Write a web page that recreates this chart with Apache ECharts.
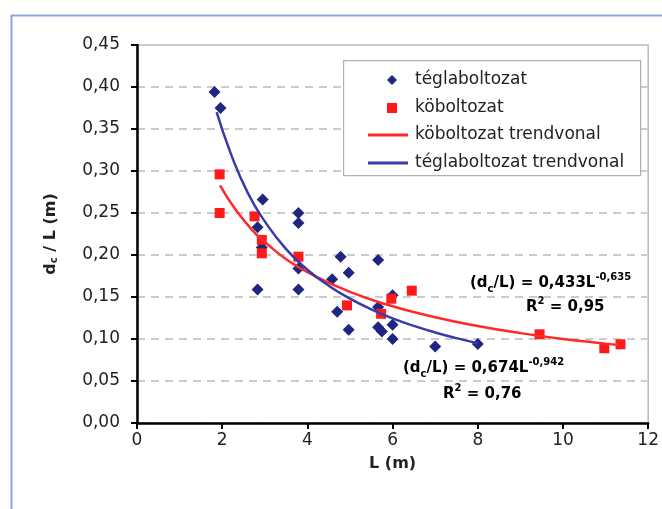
<!DOCTYPE html>
<html>
<head>
<meta charset="utf-8">
<script src="https://cdn.jsdelivr.net/npm/echarts@6/dist/echarts.min.js"></script>
<style>
html,body{margin:0;padding:0;background:#fff;}
#chart{width:662px;height:509px;}
</style>
</head>
<body>
<div id="chart"></div>
<script>
// ---- data ----
const teglaX = [1.82, 1.96, 2.95, 2.83, 2.93, 2.83, 3.79, 3.79, 3.79, 3.79, 4.78, 5.66, 4.97, 4.58, 6.00, 5.66, 4.70, 6.00, 5.66, 5.75, 4.97, 6.00, 7.00, 8.00];
const teglaY = [0.394, 0.375, 0.266, 0.233, 0.209, 0.159, 0.250, 0.238, 0.184, 0.159, 0.198, 0.194, 0.179, 0.171, 0.152, 0.138, 0.1325, 0.117, 0.114, 0.109, 0.111, 0.100, 0.091, 0.094];

const koX = [1.94, 1.94, 2.76, 2.93, 2.93, 3.79, 4.93, 5.97, 5.73, 6.45, 9.45, 10.97, 11.35];
const koY = [0.296, 0.250, 0.246, 0.218, 0.202, 0.198, 0.140, 0.148, 0.130, 0.1575, 0.1056, 0.089, 0.0937];

const koTrendX = [1.95, 2.3, 2.7, 3, 3.5, 4, 5, 6, 7, 8, 9, 10, 11, 11.35];
const koTrendY = [0.283, 0.255, 0.230, 0.2155, 0.195, 0.1795, 0.156, 0.139, 0.126, 0.1155, 0.107, 0.100, 0.0945, 0.0926];

const teglaTrendX = [1.87, 2.2, 2.6, 3, 3.5, 4, 4.5, 5, 5.5, 6, 6.5, 7, 7.5, 8];
const teglaTrendY = [0.370, 0.321, 0.274, 0.240, 0.207, 0.1825, 0.1635, 0.148, 0.1353, 0.1246, 0.1156, 0.1078, 0.101, 0.095];

const yTicks = ['0,00','0,05','0,10','0,15','0,20','0,25','0,30','0,35','0,40','0,45'];
const xTicks = ['0','2','4','6','8','10','12'];

const seriesNames = ['téglaboltozat', 'köboltozat', 'köboltozat trendvonal', 'téglaboltozat trendvonal'];

const FONT = 'DejaVu Sans';
const zip = (a, b) => a.map((v, i) => [v, b[i]]);

const chart = echarts.init(document.getElementById('chart'), null, {renderer: 'canvas'});

const eqRich = (color) => ({
  m: {fontSize: 15, fontWeight: 'bold', fontFamily: FONT, color: color, lineHeight: 22, verticalAlign: 'middle'},
  sub: {fontSize: 10, fontWeight: 'bold', fontFamily: FONT, color: color, lineHeight: 10, verticalAlign: 'bottom'},
  sup: {fontSize: 10, fontWeight: 'bold', fontFamily: FONT, color: color, lineHeight: 10, verticalAlign: 'top'}
});

const option = {
  animation: false,
  backgroundColor: '#ffffff',
  grid: {left: 137, right: 11, top: 45, bottom: 86, show: true, borderColor: '#b8b8b8', borderWidth: 1.5, backgroundColor: 'transparent'},
  xAxis: {
    type: 'value', min: 0, max: 12, interval: 2,
    name: 'L (m)', nameLocation: 'middle', nameGap: 33,
    nameTextStyle: {fontFamily: FONT, fontSize: 16, fontWeight: 'bold', color: '#222'},
    axisLine: {show: true, onZero: false, lineStyle: {color: '#000', width: 2.5}},
    axisTick: {show: true, length: 6, lineStyle: {color: '#000', width: 2}},
    axisLabel: {margin: 9, fontFamily: FONT, fontSize: 17, color: '#222',
      formatter: (v) => xTicks[Math.round(v / 2)]},
    splitLine: {show: false}
  },
  yAxis: {
    type: 'value', min: 0, max: 0.45, interval: 0.05,
    name: 'd{sub|c} / L (m)', nameLocation: 'middle', nameGap: 78, nameRotate: 90,
    nameTextStyle: {fontFamily: FONT, fontSize: 16, fontWeight: 'bold', color: '#222',
      rich: {sub: {fontFamily: FONT, fontSize: 10, fontWeight: 'bold', color: '#222', verticalAlign: 'bottom', lineHeight: 10}}},
    axisLine: {show: true, onZero: false, lineStyle: {color: '#000', width: 2.5}},
    axisTick: {show: true, length: 6, lineStyle: {color: '#000', width: 2}},
    axisLabel: {margin: 17, fontFamily: FONT, fontSize: 17, color: '#222',
      formatter: (v) => yTicks[Math.round(v / 0.05)]},
    splitLine: {show: true, lineStyle: {color: '#cccccc', width: 2, type: [8, 6]}}
  },
  legend: [
    {
      orient: 'vertical', left: 382, top: 65, itemWidth: 10, itemHeight: 10, itemGap: 8,
      data: [{name: seriesNames[0], icon: 'diamond'}, {name: seriesNames[1], icon: 'rect'}],
      textStyle: {fontFamily: FONT, fontSize: 17, color: '#222', lineHeight: 20, padding: [0, 0, 0, 13]}
    },
    {
      orient: 'vertical', left: 363, top: 120, itemWidth: 40, itemHeight: 3, itemGap: 8,
      data: [{name: seriesNames[2], icon: 'rect'}, {name: seriesNames[3], icon: 'rect'}],
      textStyle: {fontFamily: FONT, fontSize: 17, color: '#222', lineHeight: 20, padding: [0, 0, 0, 2]}
    }
  ],
  graphic: [
    {type: 'rect', left: 9, top: 13, shape: {width: 700, height: 600},
      style: {fill: 'none', stroke: '#85a9dd', lineWidth: 2}, silent: true, z: -1},
    {type: 'rect', left: 343, top: 60, shape: {width: 297, height: 115},
      style: {fill: '#fff', stroke: '#b0b0b0', lineWidth: 1.2}, silent: true, z: 1},
    {type: 'text', left: 470, top: 272, z: 5,
      style: {text: '{m|(d}{sub|c}{m|/L) = 0,433L}{sup|-0,635}', rich: eqRich('#ff2a2a')}},
    {type: 'text', left: 526, top: 296, z: 5,
      style: {text: '{m|R}{sup|2}{m| = 0,95}', rich: eqRich('#ff2a2a')}},
    {type: 'text', left: 403, top: 357, z: 5,
      style: {text: '{m|(d}{sub|c}{m|/L) = 0,674L}{sup|-0,942}', rich: eqRich('#2e3a8c')}},
    {type: 'text', left: 443, top: 383, z: 5,
      style: {text: '{m|R}{sup|2}{m| = 0,76}', rich: eqRich('#2e3a8c')}}
  ],
  series: [
    {name: seriesNames[0], type: 'scatter', symbol: 'diamond', symbolSize: 12, z: 3,
      itemStyle: {color: '#1f2680', opacity: 1}, data: zip(teglaX, teglaY)},
    {name: seriesNames[1], type: 'scatter', symbol: 'rect', symbolSize: 10, z: 3,
      itemStyle: {color: '#ff1a1a', opacity: 1}, data: zip(koX, koY)},
    {name: seriesNames[2], type: 'line', smooth: true, symbol: 'none', showSymbol: false, z: 4,
      lineStyle: {color: '#ff2a2a', width: 2.5}, itemStyle: {color: '#ff2a2a'}, data: zip(koTrendX, koTrendY)},
    {name: seriesNames[3], type: 'line', smooth: true, symbol: 'none', showSymbol: false, z: 4,
      lineStyle: {color: '#3a3aa8', width: 2.5}, itemStyle: {color: '#3a3aa8'}, data: zip(teglaTrendX, teglaTrendY)}
  ]
};
chart.setOption(option);
</script>
</body>
</html>
